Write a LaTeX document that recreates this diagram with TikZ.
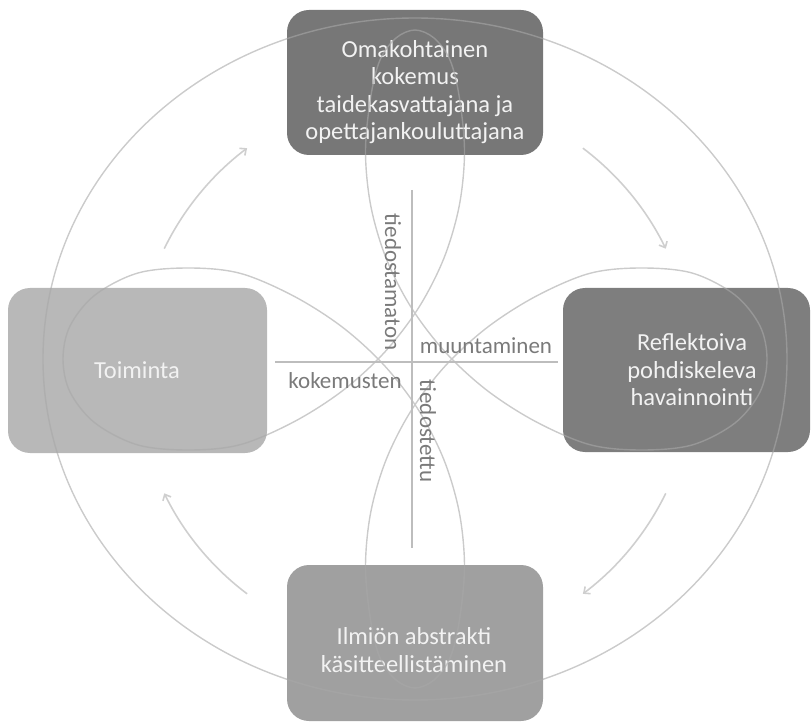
\documentclass[tikz,border=0pt]{standalone}
\usepackage{fontspec}
\setmainfont{Carlito}
\usetikzlibrary{arrows.meta}
\definecolor{topc}{HTML}{777777}
\definecolor{rightc}{HTML}{7E7E7E}
\definecolor{botc}{HTML}{A0A0A0}
\definecolor{leftc}{HTML}{B8B8B8}
\definecolor{linec}{HTML}{A8A8A8}
\definecolor{axisc}{HTML}{BDBDBD}
\definecolor{arrowc}{HTML}{CFCFCF}
\definecolor{labelc}{HTML}{7A7A7A}
\definecolor{boxtext}{HTML}{F2F2F2}
\tikzset{
  boxst/.style={rectangle, rounded corners=22pt, draw=none, inner sep=0pt},
  boxtxt/.style={align=center, text=boxtext, font=\fontsize{24.5pt}{27.5pt}\selectfont},
  axislbl/.style={text=labelc, font=\fontsize{23pt}{26pt}\selectfont, inner sep=0pt},
  ringline/.style={draw=linec, line width=1.4pt, opacity=0.6},
  axisline/.style={draw=axisc, line width=1.3pt},
  cyc/.style={draw=arrowc, line width=1.6pt, -{Straight Barb[length=5pt,width=9pt]}}
}
\begin{document}
\begin{tikzpicture}[x=1pt,y=-1pt]
\useasboundingbox (0,0) rectangle (811,727);
\clip (0,0) rectangle (811,727);
% boxes
\node[boxst, fill=topc, minimum width=256pt, minimum height=145pt] (topbox) at (415,82.5) {};
\node[boxst, fill=rightc, minimum width=247pt, minimum height=164pt] (rightbox) at (686.5,370) {};
\node[boxst, fill=leftc, minimum width=259pt, minimum height=165pt] (leftbox) at (137.5,370.5) {};
\node[boxst, fill=botc, minimum width=256pt, minimum height=156pt] (botbox) at (415,643) {};
% box texts
\node[boxtxt] (toptxt) at (415,92) {Omakohtainen\\kokemus\\taidekasvattajana ja\\opettajankouluttajana};
\node[boxtxt] (righttxt) at (692,370) {Reflektoiva\\pohdiskeleva\\havainnointi};
\node[boxtxt] (lefttxt) at (137,370) {Toiminta};
\node[boxtxt] (bottxt) at (414,650) {Ilmiön abstrakti\\käsitteellistäminen};
% outer ring
\coordinate (bigc) at (415,359);
\draw[ringline] (bigc) ellipse [x radius=372pt, y radius=341pt];
% four-petal loop
\draw[ringline] plot[smooth cycle, tension=0.55] coordinates {
 (415,30) (396,38) (380,60)
 (370.7,97.1) (365.5,151.3) (370.7,205.5) (386,258) (411.1,307.3) (445.1,351.9) (486.9,390.3) (535.5,421.5) (589.2,444.5)
 (640,450) (692,445) (735,423) (760,392) (767,359) (760,326) (735,295) (692,273) (640,268)
 (589.2,273.5) (535.5,296.5) (486.9,327.7) (445.1,366.1) (411.1,410.7) (386,460) (370.7,512.5) (365.5,566.7) (370.7,620.9)
 (380,658) (396,680) (415,688) (434,680) (450,658)
 (459.3,620.9) (464.5,566.7) (459.3,512.5) (444,460) (418.9,410.7) (384.9,366.1) (343.1,327.7) (294.5,296.5) (240.8,273.5)
 (190,268) (138,273) (95,295) (70,326) (63,359) (70,392) (95,423) (138,445) (190,450)
 (240.8,444.5) (294.5,421.5) (343.1,390.3) (384.9,351.9) (418.9,307.3) (444,258) (459.3,205.5) (464.5,151.3) (459.3,97.1)
 (450,60) (434,38)
};
% axes
\coordinate (hl) at (275,362);
\coordinate (hr) at (558,362);
\coordinate (vt) at (412,190);
\coordinate (vb) at (412,548);
\draw[axisline] (hl) -- (hr);
\draw[axisline] (vt) -- (vb);
% axis labels
\node[axislbl, rotate=-90] (ltop) at (393,282) {tiedostamaton};
\node[axislbl, rotate=-90] (lbot) at (428,431) {tiedostettu};
\node[axislbl] (lright) at (486,346) {muuntaminen};
\node[axislbl] (lleft) at (345,381) {kokemusten};
% cycle arrows
\coordinate (cc) at (415,371);
\draw[cyc] ([shift={(154:279pt)}]cc) arc[start angle=154, end angle=127, radius=279pt];
\draw[cyc] ([shift={(53:279pt)}]cc) arc[start angle=53, end angle=26, radius=279pt];
\draw[cyc] ([shift={(-26:279pt)}]cc) arc[start angle=-26, end angle=-53, radius=279pt];
\draw[cyc] ([shift={(-127:279pt)}]cc) arc[start angle=-127, end angle=-154, radius=279pt];
\end{tikzpicture}
\end{document}
